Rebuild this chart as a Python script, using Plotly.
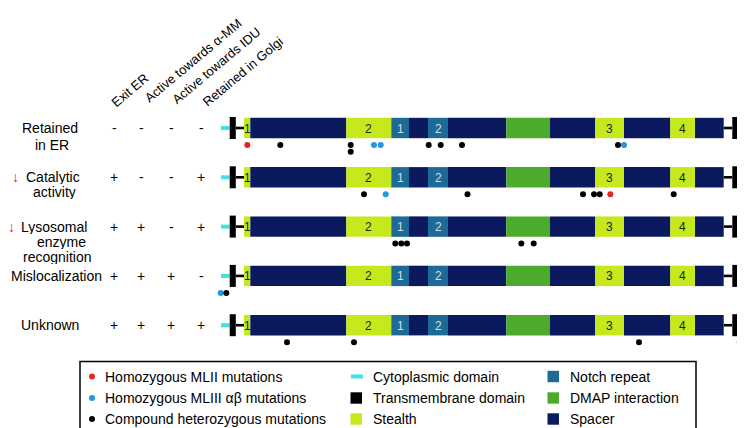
import plotly.graph_objects as go

# ---------------- data ----------------
ROW_LINES = [
    ["Retained", "in ER"],
    ["Catalytic", "activity"],
    ["Lysosomal", "enzyme", "recognition"],
    ["Mislocalization"],
    ["Unknown"],
]
ROW_DOWN_ARROW = [False, True, True, False, False]
PROPERTIES = ["Exit ER", "Active towards α-MM", "Active towards IDU", "Retained in Golgi"]
SIGNS = [
    ["-", "-", "-", "-"],
    ["+", "-", "-", "+"],
    ["+", "+", "-", "+"],
    ["+", "+", "+", "-"],
    ["+", "+", "+", "+"],
]

# domain architecture along the construct (drawing units)
DOMAIN_TYPE = ["Stealth", "Spacer", "Stealth", "Notch repeat", "Spacer", "Notch repeat", "Spacer",
               "DMAP interaction", "Spacer", "Stealth", "Spacer", "Stealth", "Spacer"]
DOMAIN_START = [236, 242.3, 338.3, 383.3, 401, 420, 440, 498.3, 542, 587.3, 616, 662.3, 687]
DOMAIN_END = [242.3, 338.3, 383.3, 401, 420, 440, 498.3, 542, 587.3, 616, 662.3, 687, 715.7]
DOMAIN_LABEL = ["1", "", "2", "1", "", "2", "", "", "", "3", "", "4", ""]
CYTO_N = [213, 221.7]
TM_N = [221.7, 227.8]
CYTO_C = [729.3, 743.3]
TM_C = [724.3, 729.3]

# mutations: row index, position, stack level
MLII_ROW = [0, 1]
MLII_POS = [239.3, 602.3]
MLII_STACK = [0, 0]
MLIII_ROW = [0, 0, 0, 1, 3, 4]
MLIII_POS = [366, 372.7, 616, 377.7, 212.7, 731.7]
MLIII_STACK = [0, 0, 0, 0, 0, 0]
COMP_ROW = [0, 0, 0, 0, 0, 0, 0, 1, 1, 1, 1, 1, 1, 2, 2, 2, 2, 2, 3, 4, 4, 4]
COMP_POS = [272.3, 342.7, 342.7, 420.7, 432.7, 454, 610,
            356, 459.5, 575, 586, 591.7, 665.7,
            387.3, 393.3, 399, 513.3, 525.7,
            218.3,
            279, 346, 631]
COMP_STACK = [0, 0, 1, 0, 0, 0, 0, 0, 0, 0, 0, 0, 0, 0, 0, 0, 0, 0, 0, 0, 0, 0]

# ---------------- style ----------------
W, H = 745, 428
FONT = "Arial, Liberation Sans, Helvetica, sans-serif"
COLORS = {
    "Spacer": "#0b1a5e",
    "Stealth": "#c6e91d",
    "Notch repeat": "#1c6a95",
    "DMAP interaction": "#4caa2c",
    "Cytoplasmic domain": "#3ee2ea",
    "Transmembrane domain": "#000000",
}
RED, BLUE, BLACK = "#e6261f", "#2398e0", "#000000"
ROW_Y0, ROW_STEP = 120.0, 49.3
BAR_HALF = 10.2
DOT_OFF, STACK_STEP = 17.0, 6.7
SIGN_X = [106, 133, 163, 193]
LABEL_X = [[42, 44], [45, 46.5], [46, 53.5, 49.5], [48], [42]]
LABEL_DY = [16.5, 15.0, 15.3, 0, 0]


def row_y(r):
    return ROW_Y0 + r * ROW_STEP


shapes = []
annotations = []

for r in range(len(ROW_LINES)):
    yc = row_y(r)
    for t, s, e, lab in zip(DOMAIN_TYPE, DOMAIN_START, DOMAIN_END, DOMAIN_LABEL):
        shapes.append(dict(type="rect", xref="x", yref="y", x0=s, x1=e, y0=yc - BAR_HALF, y1=yc + BAR_HALF,
                           fillcolor=COLORS[t], line=dict(width=0), layer="below"))
        if lab:
            annotations.append(dict(x=(s + e) / 2, y=yc + 0.5, xref="x", yref="y", text=lab, showarrow=False,
                                    font=dict(family=FONT, size=12,
                                              color="#222222" if t == "Stealth" else "#d5deec"),
                                    xanchor="center", yanchor="middle"))
    for c in (CYTO_N, CYTO_C):
        shapes.append(dict(type="rect", xref="x", yref="y", x0=c[0], x1=c[1], y0=yc - 2, y1=yc + 2,
                           fillcolor=COLORS["Cytoplasmic domain"], line=dict(width=0), layer="below"))
    for tm in (TM_N, TM_C):
        shapes.append(dict(type="rect", xref="x", yref="y", x0=tm[0], x1=tm[1], y0=yc - BAR_HALF - 0.8,
                           y1=yc + BAR_HALF + 0.8, fillcolor="black", line=dict(width=0), layer="below"))
    shapes.append(dict(type="rect", xref="x", yref="y", x0=TM_N[1], x1=DOMAIN_START[0], y0=yc - 1.3, y1=yc + 1.3,
                       fillcolor="black", line=dict(width=0), layer="below"))
    shapes.append(dict(type="rect", xref="x", yref="y", x0=DOMAIN_END[-1], x1=TM_C[0], y0=yc - 1.3, y1=yc + 1.3,
                       fillcolor="black", line=dict(width=0), layer="below"))

    # row labels
    for k, line in enumerate(ROW_LINES[r]):
        annotations.append(dict(x=LABEL_X[r][k], y=yc + k * LABEL_DY[r], xref="x", yref="y", text=line,
                                showarrow=False, font=dict(family=FONT, size=14, color="black"),
                                xanchor="center", yanchor="middle", height=14))
    if ROW_DOWN_ARROW[r]:
        ax = 7 if r == 1 else 3.5
        annotations.append(dict(x=ax, y=yc, xref="x", yref="y", text="<b>↓</b>", showarrow=False,
                                font=dict(family=FONT, size=14, color=RED),
                                xanchor="center", yanchor="middle"))
    for j, sgn in enumerate(SIGNS[r]):
        annotations.append(dict(x=SIGN_X[j], y=yc, xref="x", yref="y", text=sgn, showarrow=False,
                                font=dict(family=FONT, size=14, color="black"),
                                xanchor="center", yanchor="middle"))

# column headers (rotated)
HEADER_CENTER = [(121.5, 82), (185, 52), (208.5, 57.5), (235, 63.5)]
for name, (hx, hy) in zip(PROPERTIES, HEADER_CENTER):
    annotations.append(dict(x=hx, y=hy, xref="x", yref="y", text=name, showarrow=False, textangle=-40,
                            font=dict(family=FONT, size=13, color="black"),
                            xanchor="center", yanchor="middle"))

fig = go.Figure()


def add_dots(rows, pos, stack, color):
    fig.add_trace(go.Scatter(
        x=pos, y=[row_y(r) + DOT_OFF + s * STACK_STEP for r, s in zip(rows, stack)],
        mode="markers", marker=dict(size=6, color=color, line=dict(width=0)),
        hoverinfo="skip", showlegend=False))


add_dots(MLIII_ROW, MLIII_POS, MLIII_STACK, BLUE)
add_dots(COMP_ROW, COMP_POS, COMP_STACK, BLACK)
add_dots(MLII_ROW, MLII_POS, MLII_STACK, RED)

# legend box
LEG_X0, LEG_X1, LEG_Y0, LEG_Y1 = 72, 688, 353.5, 426
shapes.append(dict(type="rect", xref="x", yref="y", x0=LEG_X0, x1=LEG_X1, y0=LEG_Y0, y1=LEG_Y1,
                   line=dict(color="black", width=1.5), fillcolor="rgba(0,0,0,0)"))
LEG_ROWS = [368.5, 390, 411]
legend_col1 = [("Homozygous MLII mutations", RED), ("Homozygous MLIII αβ mutations", BLUE),
               ("Compound heterozygous mutations", BLACK)]
for (txt, col), ly in zip(legend_col1, LEG_ROWS):
    shapes.append(dict(type="circle", xref="x", yref="y", x0=81, x1=87, y0=ly - 3, y1=ly + 3,
                       fillcolor=col, line=dict(width=0)))
    annotations.append(dict(x=95, y=ly, xref="x", yref="y", text=txt, showarrow=False,
                            font=dict(family=FONT, size=14, color="black"), xanchor="left", yanchor="middle"))
legend_col2 = ["Cytoplasmic domain", "Transmembrane domain", "Stealth"]
legend_col3 = ["Notch repeat", "DMAP interaction", "Spacer"]
for name, ly in zip(legend_col2, LEG_ROWS):
    if name == "Cytoplasmic domain":
        shapes.append(dict(type="rect", xref="x", yref="y", x0=343, x1=355, y0=ly - 2, y1=ly + 2,
                           fillcolor=COLORS[name], line=dict(width=0)))
    else:
        shapes.append(dict(type="rect", xref="x", yref="y", x0=342.5, x1=354, y0=ly - 5.7, y1=ly + 5.7,
                           fillcolor=COLORS[name], line=dict(width=0)))
    annotations.append(dict(x=363, y=ly, xref="x", yref="y", text=name, showarrow=False,
                            font=dict(family=FONT, size=14, color="black"), xanchor="left", yanchor="middle"))
for name, ly in zip(legend_col3, LEG_ROWS):
    shapes.append(dict(type="rect", xref="x", yref="y", x0=539.5, x1=551, y0=ly - 5.7, y1=ly + 5.7,
                       fillcolor=COLORS[name], line=dict(width=0)))
    annotations.append(dict(x=560, y=ly, xref="x", yref="y", text=name, showarrow=False,
                            font=dict(family=FONT, size=14, color="black"), xanchor="left", yanchor="middle"))

fig.update_layout(
    width=W, height=H, margin=dict(l=0, r=0, t=0, b=0),
    paper_bgcolor="white", plot_bgcolor="white",
    xaxis=dict(range=[0, W], visible=False, fixedrange=True),
    yaxis=dict(range=[H, 0], visible=False, fixedrange=True),
    shapes=shapes, annotations=annotations, showlegend=False,
)

fig.write_html("out.html", config={"displayModeBar": False})
